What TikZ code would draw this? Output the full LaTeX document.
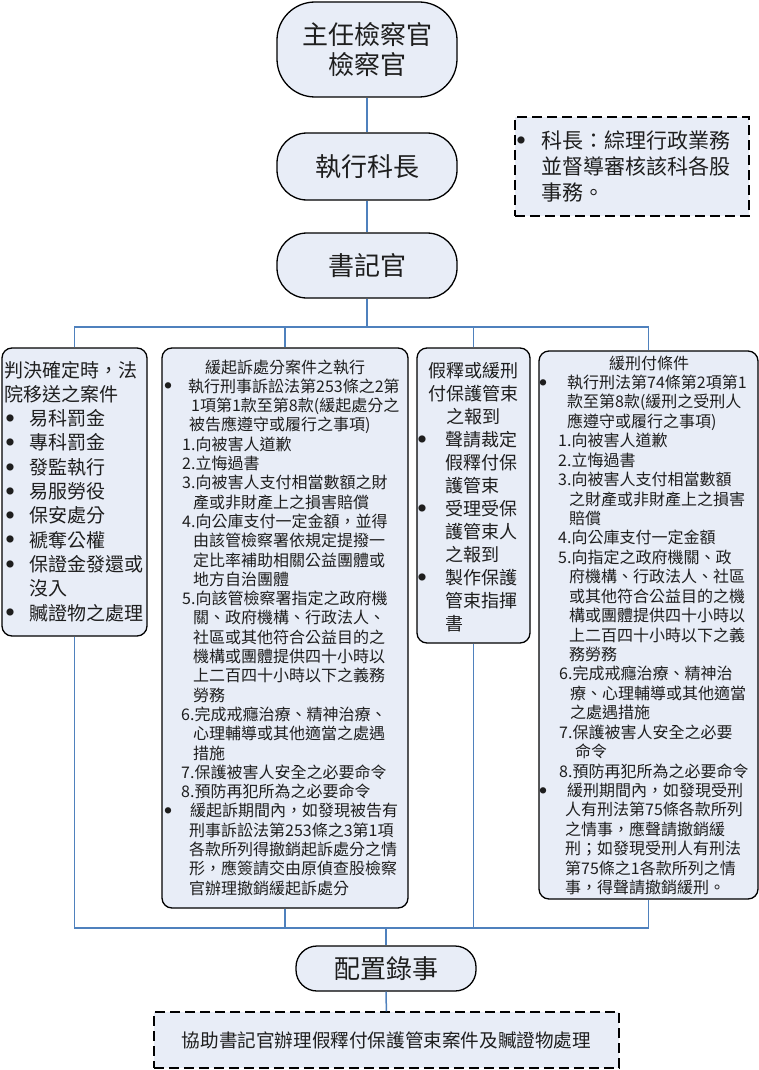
\documentclass[tikz,border=0pt]{standalone}
\usepackage{fontspec}
\newfontfamily\cjk{Noto Sans CJK TC}
\definecolor{boxfill}{RGB}{232,237,247}
\definecolor{linecol}{RGB}{79,129,189}
\definecolor{txtcol}{RGB}{30,30,30}
% bullet: #1 gap to text, #2 bullet font size, #3 raise
\newcommand\mybul[3]{\llap{\makebox[0pt]{\raisebox{#3pt}{\fontsize{#2}{#2}\selectfont ●}}\hspace{#1pt}}}
\tikzset{
  term/.style={draw=black, line width=1.3pt, fill=boxfill, rounded corners=#1,
    minimum width=180pt, inner sep=0pt, text=txtcol, font=\cjk\fontsize{26}{30}\selectfont},
  card/.style={draw=black, line width=1.3pt, fill=boxfill, rounded corners=10pt, inner sep=0pt},
  dbox/.style={draw=black, line width=1.3pt, fill=boxfill, dash pattern=on 10pt off 5pt, inner sep=0pt, text=txtcol},
  conn/.style={draw=linecol, line width=1.5pt},
  lnA/.style={anchor=base west, inner sep=0pt, text=txtcol, font=\cjk\fontsize{16}{19}\selectfont},
  lnB/.style={anchor=base west, inner sep=0pt, text=txtcol, font=\cjk\fontsize{19}{24}\selectfont},
  lnC/.style={anchor=base west, inner sep=0pt, text=txtcol, font=\cjk\fontsize{18}{23}\selectfont},
  lnD/.style={anchor=base west, inner sep=0pt, text=txtcol, font=\cjk\fontsize{21}{26}\selectfont},
}
\begin{document}
\begin{tikzpicture}[x=1pt,y=-1pt]
\useasboundingbox (0,0) rectangle (759,1070);
\fill[white] (0,0) rectangle (759,1070);

% main chain
\node[term=38pt, minimum height=95pt, align=center] (n1) at (367,49.5) {主任檢察官\\檢察官};
\node[term=30pt, minimum height=67pt] (n2) at (367,166.5) {執行科長};
\node[term=30pt, minimum height=65pt] (n3) at (367,265.5) {書記官};
\node[term=21pt, minimum height=45pt] (n5) at (386,968.5) {配置錄事};

% note box top right
\node[dbox, minimum width=234pt, minimum height=99pt] (nb) at (632,166.5) {};
\node[lnD] (nbl1) at (541,148) {\mybul{20}{8}{4.9}科長：綜理行政業務};
\node[lnD] (nbl2) at (541,174.5) {並督導審核該科各股};
\node[lnD] (nbl3) at (541,200) {事務。};

% bottom note
\node[dbox, minimum width=465pt, minimum height=56pt, font=\cjk\fontsize{18.6}{22}\selectfont] (nd) at (386.5,1040) {協助書記官辦理假釋付保護管束案件及贓證物處理};

% cards
\node[card, minimum width=145pt, minimum height=288pt] (b1) at (74.5,492) {};
\node[card, minimum width=246pt, minimum height=560pt] (b2) at (285,628) {};
\node[card, minimum width=113pt, minimum height=295pt] (b3) at (473.5,495.5) {};
\node[card, minimum width=219pt, minimum height=548pt] (b4) at (648.5,625) {};

% card 1 text
\foreach \xx/\tx [count=\i] in {
  4/{判決確定時，法},
  4/{院移送之案件},
  29/{\mybul{19}{8}{4.2}易科罰金},
  29/{\mybul{19}{8}{4.2}專科罰金},
  29/{\mybul{19}{8}{4.2}發監執行},
  29/{\mybul{19}{8}{4.2}易服勞役},
  29/{\mybul{19}{8}{4.2}保安處分},
  29/{\mybul{19}{8}{4.2}褫奪公權},
  29/{\mybul{19}{8}{4.2}保證金發還或},
  29/{沒入},
  29/{\mybul{19}{8}{4.2}贓證物之處理}%
}{\node[lnB] (b1l\i) at ({\xx},{377+(\i-1)*24.3}) {\tx};}

% card 2 text
\node[lnA, anchor=base] (b2l1) at (285,373) {緩起訴處分案件之執行};
\foreach \xx/\tx [count=\i from 2] in {
  188/{\mybul{20}{7}{3.4}執行刑事訴訟法第253條之2第},
  191/{1項第1款至第8款(緩起處分之},
  189/{被告應遵守或履行之事項)},
  182/{1.向被害人道歉},
  182/{2.立悔過書},
  182/{3.向被害人支付相當數額之財},
  193/{產或非財產上之損害賠償},
  182/{4.向公庫支付一定金額，並得},
  193/{由該管檢察署依規定提撥一},
  193/{定比率補助相關公益團體或},
  193/{地方自治團體},
  182/{5.向該管檢察署指定之政府機},
  193/{關、政府機構、行政法人、},
  193/{社區或其他符合公益目的之},
  193/{機構或團體提供四十小時以},
  193/{上二百四十小時以下之義務},
  193/{勞務},
  181/{6.完成戒癮治療、精神治療、},
  193/{心理輔導或其他適當之處遇},
  193/{措施},
  181/{7.保護被害人安全之必要命令},
  181/{8.預防再犯所為之必要命令},
  190/{\mybul{22}{7}{3.4}緩起訴期間內，如發現被告有},
  189/{刑事訴訟法第253條之3第1項},
  189/{各款所列得撤銷起訴處分之情},
  189/{形，應簽請交由原偵查股檢察},
  189/{官辦理撤銷緩起訴處分}%
}{\node[lnA] (b2l\i) at ({\xx},{373+(\i-1)*19.3}) {\tx};}

% card 3 text
\node[lnC, anchor=base] (b3l1) at (473.5,377) {假釋或緩刑};
\node[lnC, anchor=base] (b3l2) at (473.5,400) {付保護管束};
\node[lnC, anchor=base] (b3l3) at (473.5,423) {之報到};
\foreach \xx/\tx [count=\i from 4] in {
  445/{\mybul{23}{8}{3.8}聲請裁定},
  445/{假釋付保},
  445/{護管束},
  445/{\mybul{23}{8}{3.8}受理受保},
  445/{護管束人},
  445/{之報到},
  445/{\mybul{23}{8}{3.8}製作保護},
  445/{管束指揮},
  445/{書}%
}{\node[lnC] (b3l\i) at ({\xx},{377+(\i-1)*23}) {\tx};}

% card 4 text
\node[lnA, anchor=base] (b4l1) at (649,369) {緩刑付條件};
\foreach \xx/\tx [count=\i from 2] in {
  567/{\mybul{24}{7}{3.4}執行刑法第74條第2項第1},
  567/{款至第8款(緩刑之受刑人},
  567/{應遵守或履行之事項)},
  558/{1.向被害人道歉},
  558/{2.立悔過書},
  558/{3.向被害人支付相當數額},
  569/{之財產或非財產上之損害},
  569/{賠償},
  558/{4.向公庫支付一定金額},
  558/{5.向指定之政府機關、政},
  569/{府機構、行政法人、社區},
  569/{或其他符合公益目的之機},
  569/{構或團體提供四十小時以},
  569/{上二百四十小時以下之義},
  569/{務勞務},
  559/{6.完成戒癮治療、精神治},
  570/{療、心理輔導或其他適當},
  570/{之處遇措施},
  559/{7.保護被害人安全之必要},
  575/{命令},
  559/{8.預防再犯所為之必要命令},
  567/{\mybul{24}{7}{3.4}緩刑期間內，如發現受刑},
  565/{人有刑法第75條各款所列},
  565/{之情事，應聲請撤銷緩},
  565/{刑；如發現受刑人有刑法},
  565/{第75條之1各款所列之情},
  565/{事，得聲請撤銷緩刑。}%
}{\node[lnA] (b4l\i) at ({\xx},{369+(\i-1)*19.43}) {\tx};}

% connectors
\coordinate (bt) at (367,327);
\coordinate (bb) at (386,928);
\draw[conn] (n1) -- (n2);
\draw[conn] (n2) -- (n3);
\draw[conn] (n3.south) -- (bt);
\draw[conn] (b1.north) -- (b1.north |- bt) -- (b4.north |- bt) -- (b4.north);
\draw[conn] (b2.north) -- (b2.north |- bt);
\draw[conn] (b3.north) -- (b3.north |- bt);
\draw[conn] (b1.south) -- (b1.south |- bb) -- (b4.south |- bb) -- (b4.south);
\draw[conn] (b2.south) -- (b2.south |- bb);
\draw[conn] (b3.south) -- (b3.south |- bb);
\draw[conn] (bb) -- (n5.north);
\draw[conn] (n5) -- (nd);
\end{tikzpicture}
\end{document}
